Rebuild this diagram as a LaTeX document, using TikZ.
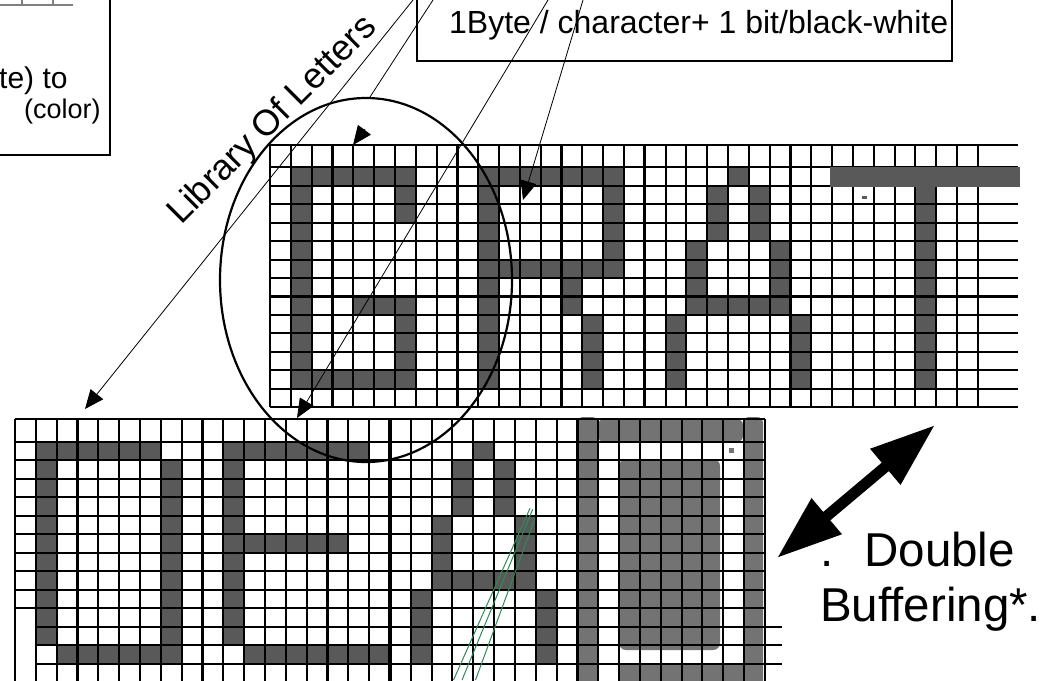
\documentclass[tikz,border=0pt]{standalone}
\usepackage{fontspec}
\setmainfont{Liberation Sans}
\usetikzlibrary{arrows.meta}
\definecolor{lettergray}{HTML}{595959}
\definecolor{ogray}{HTML}{737373}
\definecolor{greenline}{HTML}{2E8B57}
\newcommand\topfill[4]{\fill[lettergray] ({270+#1*20.82},{148.84+#3*18.46}) rectangle ({270+(#2+1)*20.82},{148.84+(#4+1)*18.46});}
\newcommand\botfill[4]{\fill[lettergray] ({15+#1*20.83},{423.2+#3*18.5}) rectangle ({15+(#2+1)*20.83},{423.2+(#4+1)*18.5});}
\begin{document}
\begin{tikzpicture}[x=1pt,y=-1pt,
  gridline/.style={line width=2.1pt, black},
  divider/.style={line width=3.2pt, black},
  boxline/.style={line width=2pt, black},
  thinline/.style={line width=0.8pt, black},
  pointer/.style={thinline, -{Triangle[length=19pt,width=16pt]}},
  txt/.style={inner sep=0pt, font=\fontsize{32}{38}\selectfont},
]
\useasboundingbox (0,0) rectangle (1051,680);
\clip (0,0) rectangle (1051,680);

% ---- top grid letters: G R A T
\topfill{1}{6}{1}{1}
\topfill{1}{1}{1}{12}
\topfill{6}{6}{1}{3}
\topfill{4}{6}{8}{8}
\topfill{6}{6}{8}{11}
\topfill{1}{6}{12}{12}
\topfill{10}{10}{1}{12}
\topfill{10}{16}{1}{1}
\topfill{16}{16}{1}{6}
\topfill{10}{16}{6}{6}
\topfill{14}{14}{7}{8}
\topfill{15}{15}{9}{12}
\topfill{22}{22}{1}{1}
\topfill{21}{21}{2}{4}
\topfill{23}{23}{2}{4}
\topfill{20}{20}{5}{8}
\topfill{24}{24}{5}{8}
\topfill{20}{24}{8}{8}
\topfill{19}{19}{9}{12}
\topfill{25}{25}{9}{12}
\topfill{31}{31}{2}{12}
\fill[lettergray] (862,196) rectangle (867,199);

% ---- bottom grid letters: D E A O
\botfill{1}{1}{1}{11}
\botfill{1}{6}{1}{1}
\botfill{7}{7}{2}{12}
\botfill{2}{7}{12}{12}
\botfill{10}{10}{1}{11}
\botfill{10}{16}{1}{1}
\botfill{11}{15}{6}{6}
\botfill{11}{17}{12}{12}
\botfill{22}{22}{1}{1}
\botfill{21}{21}{2}{4}
\botfill{23}{23}{2}{4}
\botfill{20}{20}{5}{8}
\botfill{24}{24}{5}{8}
\botfill{20}{24}{8}{8}
\botfill{19}{19}{9}{12}
\botfill{25}{25}{9}{12}
\fill[ogray, rounded corners=6pt] (577,417) rectangle (598,695);
\fill[ogray, rounded corners=6pt] (598,419) rectangle (743,442);
\fill[ogray, rounded corners=6pt] (743,417) rectangle (763,695);
\fill[ogray, rounded corners=7pt] (619,459) rectangle (720,650);
\fill[ogray, rounded corners=7pt] (618,663) rectangle (762,695);
\fill[ogray] (729,448) rectangle (734,453);

% ---- top grid lines
\foreach \i in {0,...,34} \draw[gridline] ({270+\i*20.82},145) -- ({270+\i*20.82},407.3);
\draw[gridline] (270,145) -- (1018,145);
\foreach \k in {1,...,14} \draw[gridline] (270,{148.84+\k*18.46}) -- (1018,{148.84+\k*18.46});
\foreach \i in {9,18} \draw[divider] ({270+\i*20.82},145) -- ({270+\i*20.82},407.3);
% T bar lies over the grid
\fill[lettergray] (830,166.5) rectangle (1020,186.5);

% ---- bottom grid lines
\foreach \i in {0,...,36} \draw[gridline] ({15+\i*20.83},419) -- ({15+\i*20.83},690);
\draw[gridline] (15,419) -- (765,419);
\foreach \k in {1,...,10} \draw[gridline] (15,{423.2+\k*18.5}) -- (765,{423.2+\k*18.5});
\foreach \k in {11,...,13} \draw[gridline] (35.83,{423.2+\k*18.5}) -- (782,{423.2+\k*18.5});
\foreach \i in {9,18,27} \draw[divider] ({15+\i*20.83},419) -- ({15+\i*20.83},690);

% ---- boxes
\draw[boxline] (-10,155) -- (110,155) -- (110,-10);
\draw[boxline] (417,-10) -- (417,61) -- (952,61) -- (952,-10);
\draw[gray, line width=1.5pt] (0,5) -- (73,5) (22,0) -- (22,5) (53,0) -- (53,5);

% ---- ellipse
\draw[line width=2.2pt] (366,280) ellipse [x radius=146pt, y radius=182pt];

% ---- pointers
\coordinate (aS) at (413,0);   \coordinate (aE) at (85,409);
\coordinate (bS) at (433,0);   \coordinate (bE) at (370,97);
\coordinate (cS) at (583,0);   \coordinate (cE) at (523,200);
\coordinate (dS) at (548,0);   \coordinate (dE) at (297,418);
\coordinate (hS) at (365,129); \coordinate (hE) at (353,145);
\draw[pointer] (aS) -- (aE);
\draw[thinline] (bS) -- (bE);
\draw[pointer] (cS) -- (cE);
\draw[pointer] (dS) -- (dE);
\draw[pointer] (hS) -- (hE);

% ---- green lines
\coordinate (g1a) at (530,508.3); \coordinate (g1b) at (453.5,680);
\coordinate (g2a) at (532.7,509.3); \coordinate (g2b) at (462,680);
\coordinate (g3a) at (535,518.3); \coordinate (g3b) at (475.5,680);
\draw[greenline, line width=1pt] (g1a) -- (g1b);
\draw[greenline, line width=1pt] (g2a) -- (g2b);
\draw[greenline, line width=1pt] (g3a) -- (g3b);

% ---- double arrow
\coordinate (dbA) at (777,558); \coordinate (dbB) at (935,425);
\draw[line width=11pt, {Triangle[length=65pt,width=44pt]}-{Triangle[length=65pt,width=44pt]}] (dbA) -- (dbB);

% ---- texts
\node[txt, anchor=base west] (boxtext) at (449,33) {1Byte / character+ 1 bit/black-white};
\node[txt, font=\fontsize{30}{36}\selectfont, anchor=base west] (lt1) at (-1,88) {te) to};
\node[txt, font=\fontsize{27}{33}\selectfont, anchor=base west] (lt2) at (24,118) {(color)};
\node[txt, font=\fontsize{36}{43}\selectfont, rotate=45, anchor=base west] (lib) at (181,226) {Library Of Letters};
\node[txt, font=\fontsize{47.5}{57}\selectfont, anchor=base west] (db1) at (820,566) {.\hspace{31pt}Double};
\node[txt, font=\fontsize{47.5}{57}\selectfont, anchor=base west] (db2) at (820,621) {Buffering*.};
\end{tikzpicture}
\end{document}
